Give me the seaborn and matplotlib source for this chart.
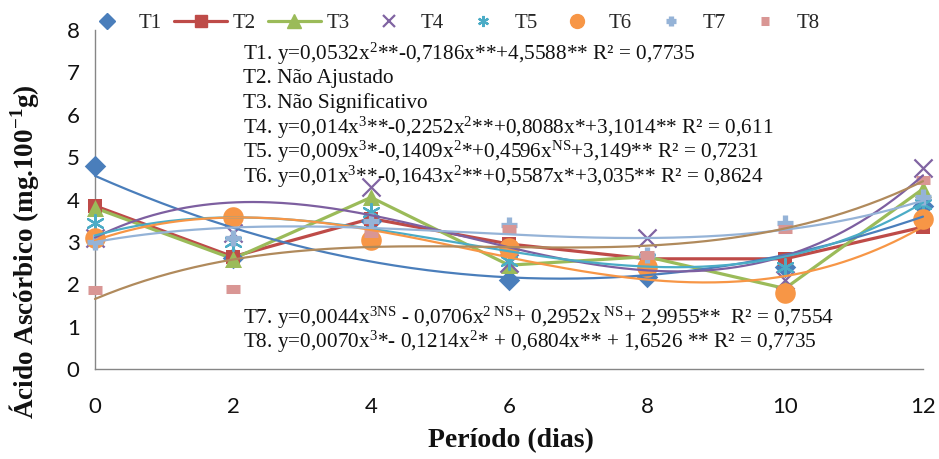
import numpy as np
import pandas as pd
import matplotlib
matplotlib.use("Agg")
import matplotlib.pyplot as plt
import seaborn as sns
from matplotlib.lines import Line2D

# Sampling days
days = [0, 2, 4, 6, 8, 10, 12]

# Ascorbic acid per treatment (mg.100-1g)
t1 = [4.80, 2.62, 3.50, 2.10, 2.17, 2.40, 3.85]
t2 = [3.85, 2.65, 3.55, 2.95, 2.60, 2.60, 3.35]
t3 = [3.80, 2.60, 4.05, 2.45, 2.65, 1.90, 4.25]
t4 = [3.10, 3.20, 4.30, 2.50, 3.10, 2.10, 4.75]
t5 = [3.45, 3.00, 3.70, 2.55, 2.60, 2.40, 3.90]
t6 = [3.10, 3.58, 3.05, 2.85, 2.40, 1.80, 3.55]
t7 = [3.00, 3.10, 3.50, 3.40, 2.70, 3.45, 4.05]
t8 = [1.86, 1.88, 3.20, 3.30, 2.70, 3.30, 4.45]

# Regression coefficients, highest power first
fit_t1 = [0.0532, -0.7186, 4.5588]
fit_t4 = [0.014, -0.2252, 0.8088, 3.1014]
fit_t5 = [0.009, -0.1409, 0.4596, 3.149]
fit_t6 = [0.01, -0.1643, 0.5587, 3.035]
fit_t7 = [0.0044, -0.0706, 0.2952, 2.9955]
fit_t8 = [0.0070, -0.1214, 0.6804, 1.6526]

names = ["T1", "T2", "T3", "T4", "T5", "T6", "T7", "T8"]
values = [t1, t2, t3, t4, t5, t6, t7, t8]
fits = {"T1": fit_t1, "T4": fit_t4, "T5": fit_t5, "T6": fit_t6,
        "T7": fit_t7, "T8": fit_t8}
joined = {"T2", "T3"}

equations = [
    r"T1. y=0,0532x$^{2}$**-0,7186x**+4,5588** R² = 0,7735",
    "T2. Não Ajustado",
    "T3. Não Significativo",
    r"T4. y=0,014x$^{3}$**-0,2252x$^{2}$**+0,8088x*+3,1014** R² = 0,611",
    r"T5. y=0,009x$^{3}$*-0,1409x$^{2}$*+0,4596x$^{\mathrm{NS}}$+3,149** R² = 0,7231",
    r"T6. y=0,01x$^{3}$**-0,1643x$^{2}$**+0,5587x*+3,035** R² = 0,8624",
]
equations_low = [
    r"T7. y=0,0044x$^{3\mathrm{NS}}$ - 0,0706x$^{2\ \mathrm{NS}}$+ 0,2952x$^{\ \mathrm{NS}}$+ 2,9955**  R² = 0,7554",
    r"T8. y=0,0070x$^{3}$*- 0,1214x$^{2}$* + 0,6804x** + 1,6526 ** R² = 0,7735",
]

style = {
    "T1": dict(marker="D", color="#4A7EBB", s=120, lw=0, ms=8),
    "T2": dict(marker="s", color="#BE4B48", s=110, lw=0, ms=9),
    "T3": dict(marker="^", color="#9BBB59", s=150, lw=0, ms=10),
    "T4": dict(marker="x", color="#8064A2", s=170, lw=1.6, ms=9),
    "T5": dict(marker=(6, 2, 0), color="#4BACC6", s=150, lw=1.6, ms=8),
    "T6": dict(marker="o", color="#F79646", s=220, lw=0, ms=10),
    "T7": dict(marker="+", color="#95B3D7", s=130, lw=3.8, ms=7),
    "T8": dict(marker="_", color="#D99694", s=100, lw=6.5, ms=6),
}
trend_colors = {"T1": "#4A7EBB", "T4": "#7D5FA0", "T5": "#4BACC6",
                "T6": "#F79646", "T7": "#95B3D7", "T8": "#B08A5C"}

sns.set_theme(style="white")
plt.rcParams["font.family"] = ["Liberation Serif", "DejaVu Serif"]
plt.rcParams["mathtext.fontset"] = "custom"
plt.rcParams["mathtext.rm"] = "Liberation Serif"
plt.rcParams["mathtext.it"] = "Liberation Serif:italic"
plt.rcParams["mathtext.bf"] = "Liberation Serif:bold"

W, H = 939, 459
fig = plt.figure(figsize=(W / 100, H / 100), dpi=100)
ax = fig.add_axes([95 / W, 1 - 369 / H, (923 - 95) / W, (369 - 30) / H])

df = pd.DataFrame({"dia": np.tile(days, len(names)),
                   "valor": np.concatenate(values),
                   "trat": np.repeat(names, len(days))})

# connecting lines for the series without a fitted model
for name in names:
    sub = df[df.trat == name]
    if name in joined:
        sns.lineplot(data=sub, x="dia", y="valor", color=style[name]["color"],
                     linewidth=2.3, ax=ax, clip_on=False, zorder=2)

# markers
for name in names:
    sub = df[df.trat == name]
    st = style[name]
    sns.scatterplot(data=sub, x="dia", y="valor", marker=st["marker"],
                    color=st["color"], s=st["s"], linewidth=st["lw"],
                    edgecolor=st["color"] if st["lw"] == 0 else None,
                    ax=ax, clip_on=False, zorder=3, legend=False)

# fitted regression curves
xs = np.linspace(0, 12, 200)
for name, coef in fits.items():
    sns.lineplot(x=xs, y=np.polyval(coef, xs), color=trend_colors[name],
                 linewidth=1.6, ax=ax, clip_on=False, zorder=4)

ax.set_xlim(0, 12)
ax.set_ylim(0, 8)
ax.set_xticks(days)
ax.set_yticks(range(0, 9))
ax.set_xlabel("")
ax.set_ylabel("")
for sp in ["top", "right"]:
    ax.spines[sp].set_visible(False)
for sp in ["left", "bottom"]:
    ax.spines[sp].set_color("#868686")
    ax.spines[sp].set_linewidth(1.0)
ax.tick_params(axis="both", direction="out", length=5, width=1,
               color="#868686", labelsize=16)
ax.tick_params(axis="y", pad=6)
ax.tick_params(axis="x", pad=15)
for lab in ax.get_xticklabels() + ax.get_yticklabels():
    lab.set_fontfamily("Lato")
    lab.set_color("#111111")

# axis titles
fig.text(511 / W, 1 - 441 / H, "Período (dias)", fontsize=20, fontweight="bold",
         ha="center", va="center", color="#111111")
fig.text(24 / W, 1 - 252 / H, r"Ácido Ascórbico (mg.100$^{\mathbf{-1}}$g)",
         fontsize=19.5, fontweight="bold", rotation=90, ha="center", va="center",
         color="#111111")

for i, txt in enumerate(equations):
    fig.text(243 / W, 1 - (54 + i * 24.6) / H, txt, fontsize=15.3,
             va="center", ha="left", color="#111111")
for i, txt in enumerate(equations_low):
    fig.text(243 / W, 1 - (318 + i * 23.5) / H, txt, fontsize=15.3,
             va="center", ha="left", color="#111111")

handles = []
for name in names:
    st = style[name]
    ls = "-" if name in joined else "none"
    handles.append(Line2D([], [], color=st["color"], linestyle=ls, linewidth=2.3,
                          marker=st["marker"], markersize=st["ms"],
                          markeredgewidth=st["lw"] if st["lw"] else 1,
                          label=name))
fig.legend(handles=handles, loc="center left", ncol=8, frameon=False,
           bbox_to_anchor=(80 / W, 1 - 23 / H), fontsize=15,
           handlelength=2.55, handletextpad=0.25, columnspacing=0.6,
           borderpad=0, borderaxespad=0)

fig.savefig("out.png", dpi=100)
